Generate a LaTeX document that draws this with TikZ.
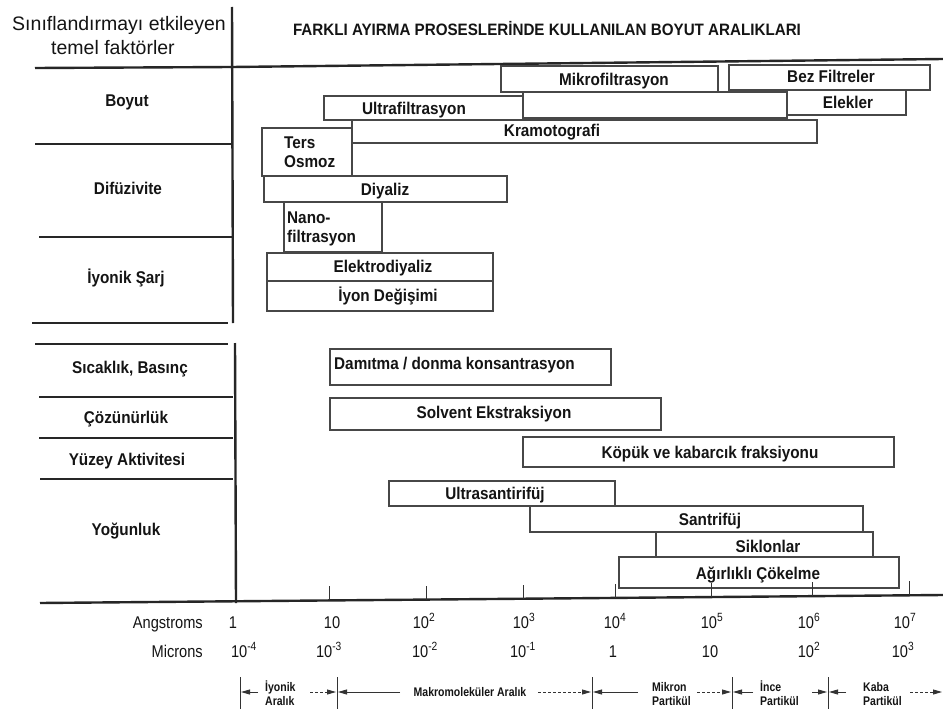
\documentclass[tikz,border=0pt]{standalone}
\usepackage{fontspec}
\setmainfont{Liberation Sans}
\newfontfamily\narrowsans[FakeStretch=0.86]{Liberation Sans}
\newfontfamily\rangesans[FakeStretch=0.84]{Liberation Sans}
\newfontfamily\labelsans[FakeStretch=0.9]{Liberation Sans}
\newfontfamily\titlesans[FakeStretch=0.92]{Liberation Sans}
\usetikzlibrary{arrows.meta,calc}
\newcommand\procbox[5]{\node[pbox, minimum width={(#4-#2)*1pt}, minimum height={(#5-#3)*1pt}] (#1) at ({(#2+#4)/2},{(#3+#5)/2}) {};}
\newcommand\dotstrut{\vphantom{İ}}
\begin{document}
\begin{tikzpicture}[x=1pt,y=-1pt,
  divider/.style={line width=2.4pt, draw=black!85},
  pbox/.style={draw=black!72, line width=1.2pt, inner sep=0pt, outer sep=0pt},
  plabel/.style={font=\labelsans\bfseries\fontsize{17}{19}\selectfont, inner sep=0pt, text height=12.2pt, text depth=0pt, text=black!92},
  ttl/.style={font=\titlesans\bfseries\fontsize{16.5}{19}\selectfont, inner sep=0pt, text height=11.8pt, text depth=0pt, text=black!92},
  hdr/.style={font=\fontsize{19.5}{22}\selectfont, inner sep=0pt, text=black!92},
  axislbl/.style={font=\narrowsans\fontsize{17}{19}\selectfont, inner sep=0pt, anchor=base, text=black!92},
  rangelbl/.style={font=\rangesans\bfseries\fontsize{12.5}{13.5}\selectfont, inner sep=0pt, align=left, text=black!92},
  rangebar/.style={line width=0.8pt, draw=black!80},
  rarrow/.style={line width=0.8pt, draw=black!80, -{Triangle[length=9pt,width=5pt]}},
  rdash/.style={rarrow, dash pattern=on 3pt off 2pt},
  axtick/.style={line width=1pt, draw=black!80}]
\useasboundingbox (0,0) rectangle (943,709);
\fill[white] (0,0) rectangle (943,709);

% ---- header ----
\node[hdr] (h1) at (119,25) {Sınıflandırmayı etkileyen};
\node[hdr] (h2) at (113,48) {temel faktörler};
\node[ttl] (title) at (547,30) {FARKLI AYIRMA PROSESLERİNDE KULLANILAN BOYUT ARALIKLARI};

% ---- frame lines ----
\draw[divider] (35,68) -- (232,67) -- (943,59);
\draw[divider] (232,7) -- (233,323);
\draw[divider] (235,343) -- (236,603);
\draw[divider] (35,144) -- (232,144);
\draw[divider] (39,237) -- (232,237);
\draw[divider] (32,323) -- (228,323);
\draw[divider] (35,344) -- (228,344);
\draw[divider] (39,397) -- (233,397);
\draw[divider] (39,438) -- (233,438);
\draw[divider] (40,479) -- (233,479);
\coordinate (axL) at (40,603);
\coordinate (axR) at (943,595);
\draw[divider] (axL) -- (axR);

% ---- factor labels ----
\node[plabel] (f1) at (127,100) {Boyut};
\node[plabel] (f2) at (128,188) {Difüzivite};
\node[plabel] (f3) at (126,277) {İyonik Şarj};
\node[plabel] (f4) at (130,367) {Sıcaklık, Basınç};
\node[plabel] (f5) at (126,417) {Çözünürlük};
\node[plabel] (f6) at (127,459) {Yüzey Aktivitesi};
\node[plabel] (f7) at (126,529) {Yoğunluk};

% ---- upper process boxes ----
\procbox{mikro}{501}{66}{718}{92}
\node[plabel] (mikro-t) at (614,79) {Mikrofiltrasyon};
\procbox{bez}{729}{65}{930}{90}
\node[plabel] (bez-t) at (831,76) {Bez Filtreler};
\procbox{ultra}{324}{96}{523}{120}
\node[plabel] (ultra-t) at (414,108) {Ultrafiltrasyon};
\procbox{gap}{523}{92}{787}{118}
\procbox{elek}{787}{90}{906}{115}
\node[plabel] (elek-t) at (848,102) {Elekler};
\procbox{kramo}{352}{120}{817}{143}
\node[plabel] (kramo-t) at (552,130) {Kramotografi};
\procbox{ters}{262}{128}{352}{176}
\node[plabel, anchor=west] (ters-t1) at (284,142) {Ters};
\node[plabel, anchor=west] (ters-t2) at (284,161) {Osmoz};
\procbox{diyaliz}{264}{176}{507}{202}
\node[plabel] (diyaliz-t) at (385,189) {Diyaliz};
\procbox{nano}{284}{202}{382}{252}
\node[plabel, anchor=west] (nano-t1) at (287,217) {Nano-};
\node[plabel, anchor=west] (nano-t2) at (287,236) {filtrasyon};
\procbox{elektro}{267}{253}{493}{281}
\node[plabel] (elektro-t) at (383,266) {Elektrodiyaliz};
\procbox{iyon}{267}{281}{493}{311}
\node[plabel] (iyon-t) at (388,295) {İyon Değişimi};

% ---- lower process boxes ----
\procbox{damitma}{330}{349}{611}{385}
\node[plabel, anchor=west] (damitma-t) at (334,363) {Damıtma / donma konsantrasyon};
\procbox{solvent}{330}{398}{661}{430}
\node[plabel] (solvent-t) at (494,412) {Solvent Ekstraksiyon};
\procbox{kopuk}{523}{437}{894}{467}
\node[plabel] (kopuk-t) at (710,452) {Köpük ve kabarcık fraksiyonu};
\procbox{ultrasan}{389}{481}{615}{506}
\node[plabel] (ultrasan-t) at (495,493) {Ultrasantirifüj};
\procbox{santri}{530}{506}{863}{532}
\node[plabel] (santri-t) at (710,519) {Santrifüj};
\procbox{siklon}{656}{532}{873}{557}
\node[plabel] (siklon-t) at (768,546) {Siklonlar};
\procbox{agir}{619}{557}{899}{588}
\node[plabel] (agir-t) at (758,573) {Ağırlıklı Çökelme};

% ---- axis ticks ----
\foreach \tx in {330,427,523,616,712,812,909}
  \draw[axtick] ($(axL)!{(\tx-40)/903}!(axR)$) -- ++(0,-14);

% ---- axis labels ----
\node[axislbl, anchor=base east] (ang) at (203,628) {Angstroms};
\node[axislbl, anchor=base east] (mic) at (203,657) {Microns};
\node[axislbl] (a0) at (233,628) {1};
\node[axislbl] (a1) at (332,628) {10};
\node[axislbl] (a2) at (424,628) {10\textsuperscript{2}};
\node[axislbl] (a3) at (524,628) {10\textsuperscript{3}};
\node[axislbl] (a4) at (615,628) {10\textsuperscript{4}};
\node[axislbl] (a5) at (712,628) {10\textsuperscript{5}};
\node[axislbl] (a6) at (809,628) {10\textsuperscript{6}};
\node[axislbl] (a7) at (905,628) {10\textsuperscript{7}};
\node[axislbl] (m0) at (244,657) {10\textsuperscript{-4}};
\node[axislbl] (m1) at (329,657) {10\textsuperscript{-3}};
\node[axislbl] (m2) at (425,657) {10\textsuperscript{-2}};
\node[axislbl] (m3) at (523,657) {10\textsuperscript{-1}};
\node[axislbl] (m4) at (613,657) {1};
\node[axislbl] (m5) at (710,657) {10};
\node[axislbl] (m6) at (809,657) {10\textsuperscript{2}};
\node[axislbl] (m7) at (903,657) {10\textsuperscript{3}};

% ---- size ranges ----
\foreach \bx in {240,337,592,732,828}
  \draw[rangebar] (\bx,677) -- (\bx,709);
\node[rangelbl, anchor=west] (r1) at (265,693) {\dotstrut İyonik\\Aralık};
\node[rangelbl] (r2) at (470,692) {Makromoleküler Aralık};
\node[rangelbl, anchor=west] (r3) at (652,693) {\dotstrut Mikron\\Partikül};
\node[rangelbl, anchor=west] (r4) at (760,693) {\dotstrut İnce\\Partikül};
\node[rangelbl, anchor=west] (r5) at (863,693) {\dotstrut Kaba\\Partikül};
\draw[rarrow] (258,692) -- (241,692);
\draw[rdash] (310,692) -- (336,692);
\draw[rarrow] (400,692) -- (338,692);
\draw[rdash] (538,692) -- (591,692);
\draw[rarrow] (638,692) -- (593,692);
\draw[rdash] (697,692) -- (731,692);
\draw[rarrow] (753,692) -- (733,692);
\draw[rarrow] (812,692) -- (827,692);
\draw[rarrow] (846,692) -- (829,692);
\draw[rdash] (910,692) -- (942,692);
\end{tikzpicture}
\end{document}
